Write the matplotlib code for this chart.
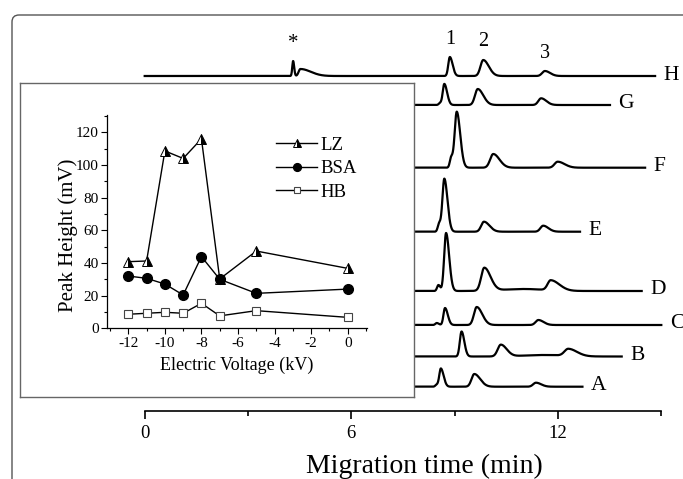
import numpy as np
import matplotlib
matplotlib.use("Agg")
import matplotlib.pyplot as plt
from matplotlib.patches import FancyBboxPatch
from matplotlib.ticker import MultipleLocator

plt.rcParams['font.family'] = ['Liberation Serif', 'DejaVu Serif']
plt.rcParams['axes.unicode_minus'] = False

# ---- inset data: peak height vs electric voltage ----
voltage = [-12, -11, -10, -9, -8, -7, -5, 0]
lz = [40.8, 41.2, 108.6, 104.0, 116.0, 30.2, 47.3, 36.7]
bsa = [32.0, 30.6, 27.1, 20.4, 43.9, 30.0, 21.4, 24.0]
hb = [8.6, 9.2, 9.8, 9.2, 15.3, 7.6, 10.8, 6.7]

# ---- electropherograms (time in min, heights in plot units) ----
trace_names = ['A', 'B', 'C', 'D', 'E', 'F', 'G', 'H']
baselines = [24.3, 54.5, 86.0, 120.0, 179.3, 243.3, 306.0, 335.0]
end_times = [12.71, 13.85, 15.0, 14.43, 12.64, 14.53, 13.51, 14.82]

# peaks: (time, height, left width, right width)
peaks_A = [(8.48, 2, 0.04, 0.06), (8.60, 18, 0.045, 0.08), (9.57, 12.7, 0.08, 0.17),
           (11.36, 4, 0.08, 0.15)]
peaks_B = [(9.20, 25, 0.05, 0.08), (10.34, 11.7, 0.09, 0.17), (11.6, 1.5, 0.6, 0.6),
           (12.30, 7, 0.11, 0.25)]
peaks_C = [(8.48, 2, 0.04, 0.06), (8.72, 17, 0.045, 0.08), (9.64, 18, 0.08, 0.16),
           (11.43, 5, 0.08, 0.15)]
peaks_D = [(8.53, 6, 0.04, 0.05), (8.75, 58, 0.055, 0.09), (9.86, 23, 0.09, 0.18),
           (11.0, 2, 0.6, 0.6), (11.79, 10, 0.09, 0.25)]
peaks_E = [(8.55, 8, 0.04, 0.05), (8.70, 53, 0.055, 0.09), (9.85, 10, 0.08, 0.16),
           (11.57, 6, 0.08, 0.15)]
peaks_F = [(8.90, 10, 0.04, 0.05), (9.06, 56, 0.06, 0.1), (10.12, 13.7, 0.09, 0.18),
           (11.99, 6, 0.09, 0.2)]
peaks_G = [(8.58, 2, 0.04, 0.05), (8.70, 21, 0.045, 0.08), (9.67, 16, 0.08, 0.16),
           (11.51, 6.7, 0.08, 0.15)]
peaks_H = [(4.31, 15, 0.025, 0.03), (4.52, 7, 0.05, 0.3), (8.86, 19, 0.045, 0.08),
           (9.83, 16, 0.08, 0.16), (11.62, 5, 0.08, 0.15)]
all_peaks = [peaks_A, peaks_B, peaks_C, peaks_D, peaks_E, peaks_F, peaks_G, peaks_H]
peak_labels = ['1', '2', '3']


def trace(t, base, peaks):
    y = np.full_like(t, base)
    for t0, h, wl, wr in peaks:
        s = np.where(t < t0, wl, wr)
        y += h * np.exp(-(t - t0) ** 2 / (2 * s ** 2))
    return y


W, H = 683, 479
fig = plt.figure(figsize=(W / 100, H / 100), dpi=100)


def fx(px):
    return px / W


def fy(py):
    return 1 - py / H


# outer rounded frame
frame = FancyBboxPatch((fx(12), -0.3), 1.3, fy(15) + 0.3,
                       boxstyle='round,pad=0,rounding_size=%f' % (7 / W),
                       mutation_aspect=W / H, transform=fig.transFigure,
                       fill=False, ec='#555555', lw=1.0)
fig.add_artist(frame)

# main axes
ax = fig.add_axes([fx(144.7), fy(411), fx(661.3) - fx(144.7), fy(15) - fy(411)])
ax.set_facecolor('none')
ax.set_xlim(0, 15)
ax.set_ylim(0, 396)
for s in ['left', 'top', 'right']:
    ax.spines[s].set_visible(False)
ax.spines['bottom'].set_linewidth(1.2)
ax.yaxis.set_visible(False)
ax.set_xticks([0, 6, 12])
ax.xaxis.set_minor_locator(MultipleLocator(3))
ax.tick_params(axis='x', which='major', length=6, width=1.2, labelsize=13.5, pad=4)
ax.tick_params(axis='x', which='minor', length=3.5, width=1.2)
ax.set_xlabel('Migration time (min)', fontsize=20, va='center')
ax.xaxis.set_label_coords((424 - 144.7) / 516.6, (411 - 466.7) / 396)

for name, base, tend, peaks in zip(trace_names, baselines, end_times, all_peaks):
    t = np.linspace(0, tend, 3000)
    ax.plot(t, trace(t, base, peaks), color='black', lw=1.6, clip_on=False)
    ax.text(tend + 0.25, base + 1, name, fontsize=15.5, ha='left', va='center')

# marks above trace H
h_base = baselines[-1]
ax.text(peaks_H[0][0], h_base + peaks_H[0][1] + 17, '*', fontsize=15,
        ha='center', va='center')
for lab, (t0, h, wl, wr) in zip(peak_labels, peaks_H[2:]):
    ax.text(t0, h_base + h + 18, lab, fontsize=14.5, ha='center', va='center')

# inset frame
fax = fig.add_axes([fx(20), fy(397), fx(414) - fx(20), fy(83) - fy(397)])
fax.set_zorder(1)
fax.set_xticks([])
fax.set_yticks([])
for s in fax.spines.values():
    s.set_edgecolor('#666666')
    s.set_linewidth(1.0)

# inset plot
iax = fig.add_axes([fx(107.3), fy(328.3), fx(366.7) - fx(107.3), fy(115) - fy(328.3)])
iax.set_zorder(2)
iax.set_facecolor('none')
iax.plot(voltage, lz, color='black', lw=1.0, marker='^', ms=6.5, fillstyle='right',
         mfc='black', mfcalt='white', mec='black', mew=0.7, label='LZ')
iax.plot(voltage, bsa, color='black', lw=1.0, marker='o', ms=7, mfc='black',
         mec='black', label='BSA')
iax.plot(voltage, hb, color='black', lw=1.0, marker='s', ms=6, mfc='white',
         mec='#444444', mew=0.8, label='HB')
iax.set_xlim(-13.15, 1.04)
iax.set_ylim(0, 130.6)
iax.spines['top'].set_visible(False)
iax.spines['right'].set_visible(False)
for s in ['left', 'bottom']:
    iax.spines[s].set_linewidth(0.9)
iax.xaxis.set_major_locator(MultipleLocator(2))
iax.xaxis.set_minor_locator(MultipleLocator(1))
iax.yaxis.set_major_locator(MultipleLocator(20))
iax.yaxis.set_minor_locator(MultipleLocator(10))
iax.tick_params(which='major', length=4, width=0.8, labelsize=11, pad=2)
iax.tick_params(which='minor', length=2, width=0.8)
iax.set_xlabel('Electric Voltage (kV)', fontsize=13, va='center')
iax.xaxis.set_label_coords(0.5, -0.172)
iax.set_ylabel('Peak Height (mV)', fontsize=15, va='center')
iax.yaxis.set_label_coords(-0.15, 0.435)
iax.legend(loc='upper left', bbox_to_anchor=(fx(276), fy(136.5)),
           bbox_transform=fig.transFigure, frameon=False, fontsize=13.5,
           handlelength=2.2, handletextpad=0.15, labelspacing=0.35,
           borderpad=0, borderaxespad=0, markerscale=0.8)

fig.savefig('out.png', dpi=100)
